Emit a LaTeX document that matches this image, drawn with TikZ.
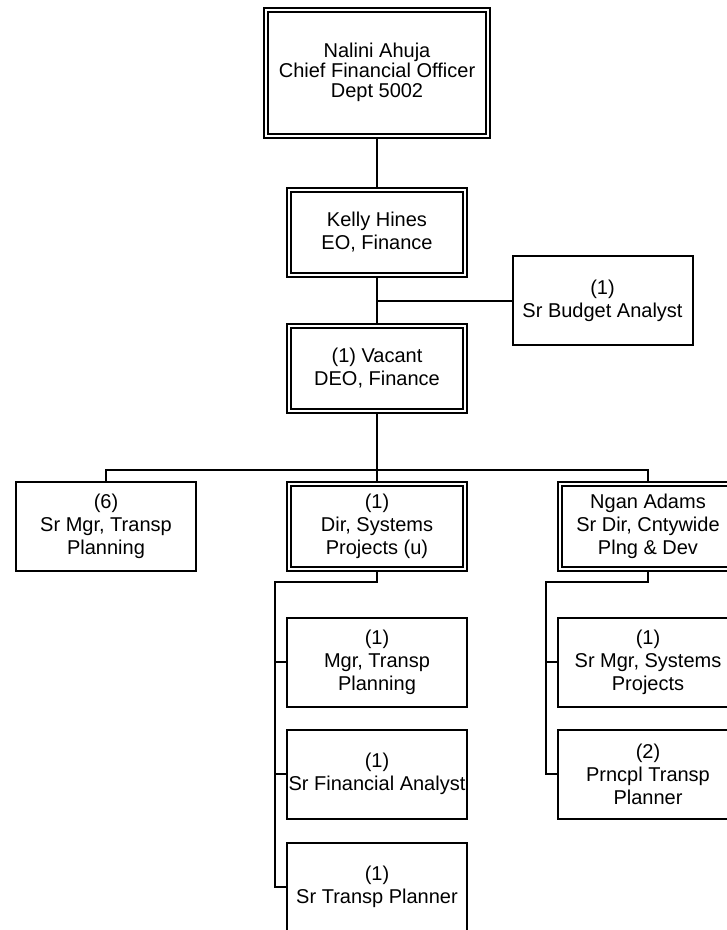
\documentclass[tikz,border=0pt]{standalone}
\usepackage{fontspec}
\setmainfont{Liberation Sans}
\usetikzlibrary{positioning,backgrounds}

\begin{document}
\begin{tikzpicture}[x=1pt, y=-1pt, every node/.style={align=center}]
\tikzset{
  post/.style={draw, fill=white, line width=2pt, inner sep=0pt,
    minimum width=180pt, minimum height=89pt,
    font=\fontsize{20}{23}\selectfont},
  headpost/.style={post, double, double distance=2pt, line width=2pt,
    minimum width=176pt, minimum height=85pt},
  link/.style={line width=2pt}
}
  \useasboundingbox (0,0) rectangle (727,930);
  \def\cx{377}
  \def\rx{648}

  % top of the chart
  \node[headpost, minimum width=222pt, minimum height=126pt,
    font=\fontsize{20}{20}\selectfont] (cfo) at (\cx,72.5)
    {Nalini Ahuja\\Chief Financial Officer\\Dept 5002};
  \node[headpost] (eo) at (\cx,232.5) {Kelly Hines\\EO, Finance};
  \node[post] (budget) at (602.5,300.5) {(1)\\Sr Budget Analyst};
  \node[headpost] (deo) at (\cx,368) {(1) Vacant\\DEO, Finance};

  % second row
  \node[post] (srmgr) at (106,526) {(6)\\Sr Mgr, Transp\\Planning};
  \node[headpost] (dir) at (\cx,526) {(1)\\Dir, Systems\\Projects (u)};
  \node[headpost] (ngan) at (\rx,526) {Ngan Adams\\Sr Dir, Cntywide\\Plng \& Dev};

  % under the director
  \node[post] (mgr) at (\cx,662) {(1)\\Mgr, Transp\\Planning};
  \node[post] (finan) at (\cx,774) {(1)\\Sr Financial Analyst};
  \node[post] (planner) at (\cx,887) {(1)\\Sr Transp Planner};

  % under Ngan Adams
  \node[post] (sysmgr) at (\rx,662) {(1)\\Sr Mgr, Systems\\Projects};
  \node[post] (prncpl) at (\rx,774) {(2)\\Prncpl Transp\\Planner};

  \coordinate (bus) at (\cx,470);
  \coordinate (dirbend) at (275,582);
  \coordinate (nganbend) at (546,582);

  \begin{scope}[on background layer]
    \draw[link] (cfo) -- (eo);
    \draw[link] (eo) -- (deo);
    \draw[link] (budget.west) -- (budget.west -| eo.south);
    \draw[link] (deo) -- (bus) -- (dir);
    \draw[link] (srmgr.north) |- (bus) -| (ngan.north);
    \draw[link] (dir.south) |- (dirbend) |- (planner.west);
    \draw[link] (dirbend) |- (mgr.west);
    \draw[link] (dirbend) |- (finan.west);
    \draw[link] (ngan.south) |- (nganbend) |- (prncpl.west);
    \draw[link] (nganbend) |- (sysmgr.west);
  \end{scope}
\end{tikzpicture}
\end{document}
